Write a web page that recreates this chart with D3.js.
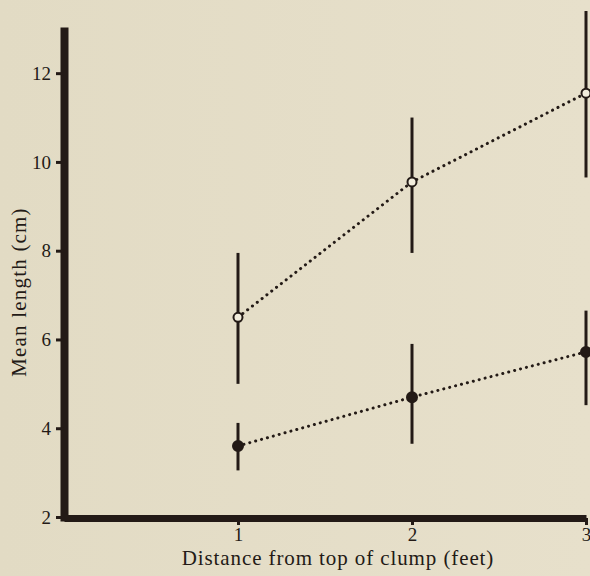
<!DOCTYPE html>
<html>
<head>
<meta charset="utf-8">
<script src="https://cdn.jsdelivr.net/npm/d3@7"></script>
<style>
  html, body { margin: 0; padding: 0; background: #e4ddc7; }
  svg { display: block; }
  text { font-family: "Liberation Serif", "Times New Roman", serif; fill: #231a16; }
</style>
</head>
<body>
<svg id="chart" width="590" height="576"></svg>
<script>
// Distance from top of clump (feet)
const distance = [1, 2, 3];

// Open circles: mean length with range
const openMean = [6.5, 9.55, 11.55];
const openLow  = [5.0, 7.95, 9.65];
const openHigh = [7.95, 11.0, 13.4];

// Filled circles: mean length with range
const filledMean = [3.6, 4.7, 5.72];
const filledLow  = [3.05, 3.65, 4.52];
const filledHigh = [4.12, 5.9, 6.65];

const yTicks = [2, 4, 6, 8, 10, 12];
const xTicks = [1, 2, 3];

const ink = "#231a16";
const svg = d3.select("#chart");

// soft paper tone, slightly darker toward the left
const defs = svg.append("defs");
const grad = defs.append("linearGradient").attr("id", "paper").attr("x1", 0).attr("x2", 1);
grad.append("stop").attr("offset", 0).attr("stop-color", "#e2dbc4");
grad.append("stop").attr("offset", 1).attr("stop-color", "#e7e0cb");
svg.append("rect").attr("width", 590).attr("height", 576).attr("fill", "url(#paper)");

const x = d3.scaleLinear().domain([0, 3]).range([64, 586]);
const y = d3.scaleLinear().domain([2, 12.95]).range([517, 31]);

// y axis
const yAxis = svg.append("g")
  .attr("transform", `translate(${x(0)},0)`)
  .call(d3.axisLeft(y).tickValues(yTicks).tickSize(8).tickSizeOuter(0).tickPadding(5).tickFormat(d3.format("d")));
yAxis.select(".domain").attr("stroke", ink).attr("stroke-width", 8).attr("stroke-linecap", "square");
yAxis.selectAll(".tick line").attr("stroke", ink).attr("stroke-width", 3);
yAxis.selectAll(".tick text")
  .style("font-size", "19px")
  .style("font-family", "'Liberation Serif', serif")
  .style("fill", ink);

// x axis
const xAxis = svg.append("g")
  .attr("transform", `translate(0,${y(2) + 1})`)
  .call(d3.axisBottom(x).tickValues(xTicks).tickSize(7).tickSizeOuter(0).tickPadding(3).tickFormat(d3.format("d")));
xAxis.select(".domain").attr("stroke", ink).attr("stroke-width", 7);
xAxis.selectAll(".tick line").attr("stroke", ink).attr("stroke-width", 3);
xAxis.selectAll(".tick text")
  .style("font-size", "19px")
  .style("font-family", "'Liberation Serif', serif")
  .style("fill", ink);

// axis titles
svg.append("text")
  .attr("x", 338).attr("y", 565)
  .attr("text-anchor", "middle")
  .style("font-size", "21px")
  .attr("letter-spacing", 0.9)
  .text("Distance from top of clump (feet)");

svg.append("text")
  .attr("transform", "translate(26,292) rotate(-90)")
  .attr("text-anchor", "middle")
  .style("font-size", "21px")
  .attr("letter-spacing", 1.2)
  .text("Mean length (cm)");

// series
function drawSeries(mean, low, high, filled) {
  const pts = distance.map((d, i) => ({ d, m: mean[i], lo: low[i], hi: high[i] }));
  const g = svg.append("g");

  g.append("path")
    .datum(pts)
    .attr("fill", "none")
    .attr("stroke", ink)
    .attr("stroke-width", 3)
    .attr("stroke-linecap", "round")
    .attr("stroke-dasharray", "0.1,6")
    .attr("d", d3.line().x(p => x(p.d)).y(p => y(p.m)));

  g.selectAll("line.err")
    .data(pts)
    .join("line")
    .attr("class", "err")
    .attr("x1", p => x(p.d)).attr("x2", p => x(p.d))
    .attr("y1", p => y(p.lo)).attr("y2", p => y(p.hi))
    .attr("stroke", ink)
    .attr("stroke-width", 3);

  g.selectAll("circle")
    .data(pts)
    .join("circle")
    .attr("cx", p => x(p.d))
    .attr("cy", p => y(p.m))
    .attr("r", filled ? 5 : 4.5)
    .attr("fill", filled ? ink : "#f2eddc")
    .attr("stroke", ink)
    .attr("stroke-width", 2);
}

drawSeries(openMean, openLow, openHigh, false);
drawSeries(filledMean, filledLow, filledHigh, true);
</script>
</body>
</html>
